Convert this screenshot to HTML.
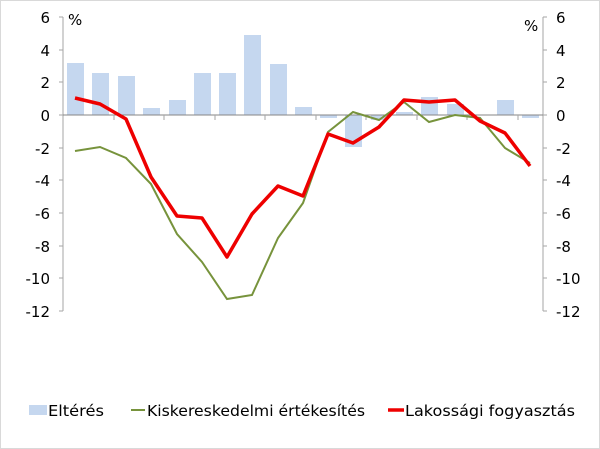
<!DOCTYPE html><html><head><style>body{margin:0;background:#fff}svg{display:block}text{font-family:"DejaVu Sans","Liberation Sans",sans-serif;font-size:15px;fill:#000}.lg{font-size:15px}</style></head><body>
<svg width="600" height="449" viewBox="0 0 600 449">
<rect x="0.5" y="0.5" width="599" height="448" fill="#fff" stroke="#d9d9d9"/>
<g fill="#c5d7ef">
<rect x="67" y="63" width="17" height="52"/><rect x="92" y="73" width="17" height="42"/><rect x="118" y="76" width="17" height="39"/><rect x="143" y="108" width="17" height="7"/><rect x="169" y="100" width="17" height="15"/><rect x="194" y="73" width="17" height="42"/><rect x="219" y="73" width="17" height="42"/><rect x="244" y="35" width="17" height="80"/><rect x="270" y="64" width="17" height="51"/><rect x="295" y="107" width="17" height="8"/><rect x="320" y="115" width="17" height="3"/><rect x="345" y="115" width="17" height="32"/><rect x="371" y="115" width="17" height="5"/><rect x="396" y="112" width="17" height="3"/><rect x="421" y="97" width="17" height="18"/><rect x="447" y="104" width="17" height="11"/><rect x="497" y="100" width="17" height="15"/><rect x="522" y="115" width="17" height="3"/>
</g>
<g stroke="#a6a6a6" stroke-width="1">
<line x1="63" y1="17" x2="63" y2="311"/><line x1="543" y1="17" x2="543" y2="311"/>
<line x1="63" y1="115" x2="543" y2="115" stroke="#868686"/>
<path d="M59 17h4M59 50h4M59 82h4M59 115h4M59 148h4M59 180h4M59 213h4M59 246h4M59 278h4M59 311h4M543 17h4M543 50h4M543 82h4M543 115h4M543 148h4M543 180h4M543 213h4M543 246h4M543 278h4M543 311h4"/>
<path d="M114 115v5M164 115v5M215 115v5M265 115v5M316 115v5M366 115v5M417 115v5M467 115v5M518 115v5"/>
</g>
<polyline fill="none" stroke="#77933c" stroke-width="2" points="75,151 100,147 126,158 151,184 177,234 202,262 227,299 252,295 278,238 303,203 328,132 353,112 379,120 404,102 429,122 455,115 480,118 505,148 530,163"/>
<polyline fill="none" stroke="#e00" stroke-width="3.5" stroke-linejoin="round" points="75,98 100,104 126,119 151,177 177,216 202,218 227,257 252,214 278,186 303,196 328,134 353,143 379,127 404,100 429,102 455,100 480,121 505,133 530,166"/>
<g text-anchor="end"><text x="50" y="23">6</text><text x="50" y="56">4</text><text x="50" y="88">2</text><text x="50" y="121">0</text><text x="50" y="154">-2</text><text x="50" y="186">-4</text><text x="50" y="219">-6</text><text x="50" y="252">-8</text><text x="50" y="284">-10</text><text x="50" y="317">-12</text></g>
<g text-anchor="start"><text x="556" y="23">6</text><text x="556" y="56">4</text><text x="556" y="88">2</text><text x="556" y="121">0</text><text x="556" y="154">-2</text><text x="556" y="186">-4</text><text x="556" y="219">-6</text><text x="556" y="252">-8</text><text x="556" y="284">-10</text><text x="556" y="317">-12</text></g>
<text x="68" y="25">%</text><text x="524" y="31">%</text>
<rect x="29" y="405" width="18" height="10" fill="#c5d7ef"/><text class="lg" x="48" y="416" textLength="56" lengthAdjust="spacingAndGlyphs">Eltérés</text>
<line x1="131" y1="410" x2="145" y2="410" stroke="#77933c" stroke-width="2"/><text class="lg" x="147" y="416" textLength="218" lengthAdjust="spacingAndGlyphs">Kiskereskedelmi értékesítés</text>
<line x1="388" y1="410" x2="404" y2="410" stroke="#e00" stroke-width="3.5"/><text class="lg" x="405" y="416" textLength="170" lengthAdjust="spacingAndGlyphs">Lakossági fogyasztás</text>
</svg></body></html>
